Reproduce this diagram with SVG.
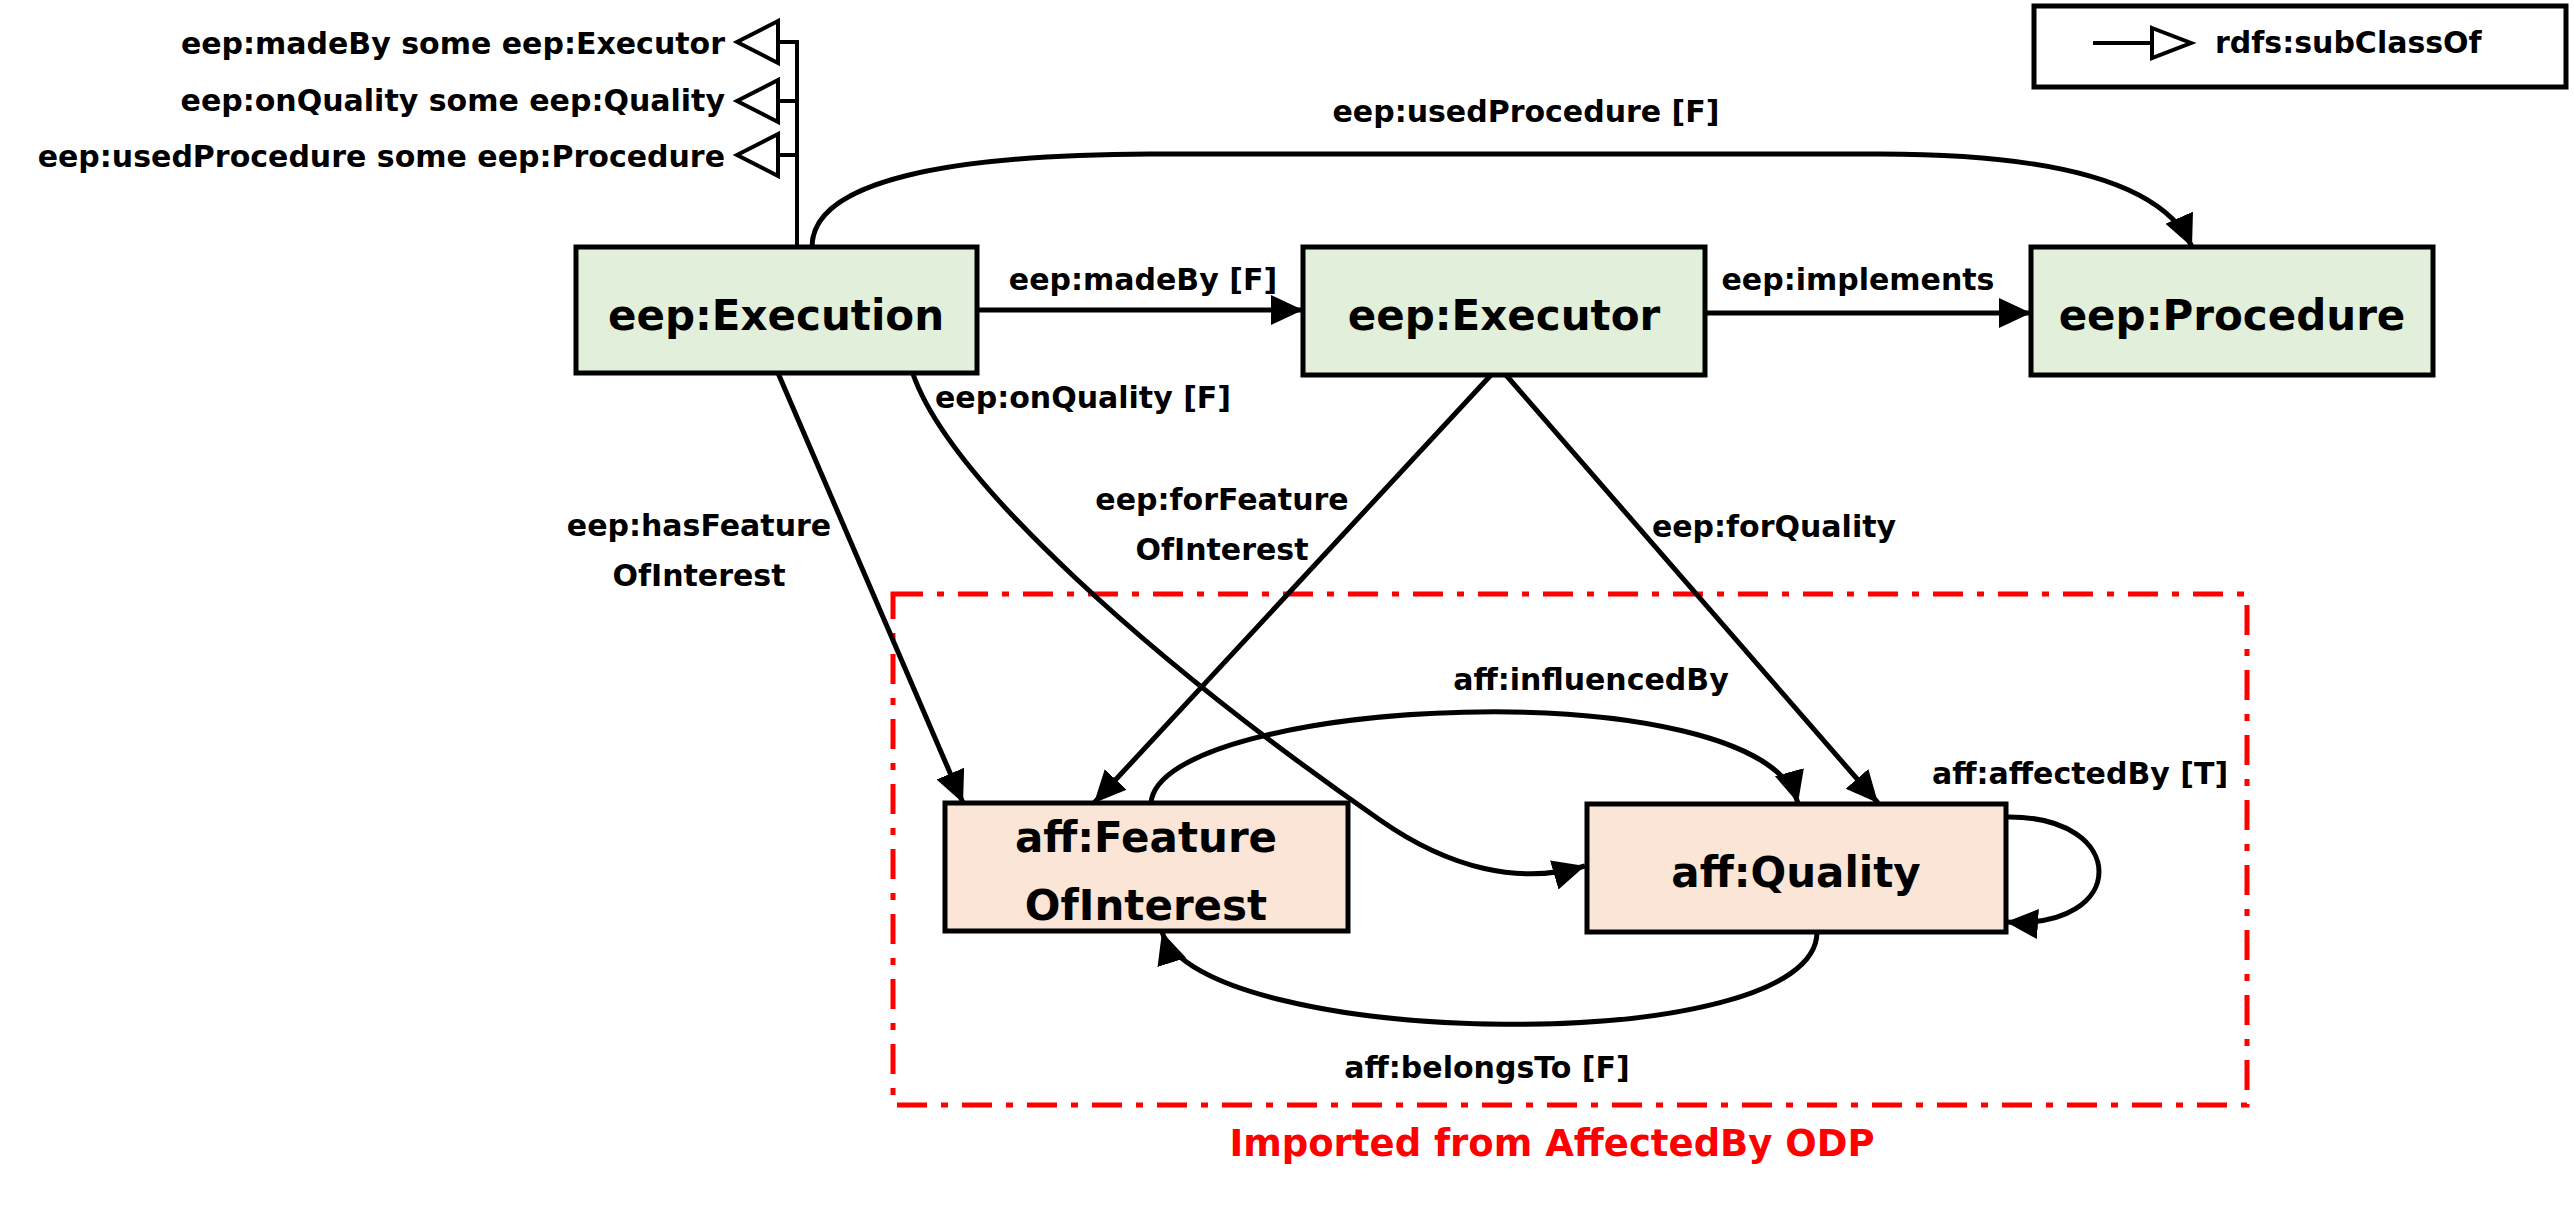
<svg xmlns="http://www.w3.org/2000/svg" width="2574" height="1206" viewBox="0 0 2574 1206">
<style>
text{font-family:"DejaVu Sans","Liberation Sans",sans-serif;font-weight:bold;fill:#000}
.node{font-size:42px;text-anchor:middle}
.lbl{font-size:30px}
.mid{text-anchor:middle}
.end{text-anchor:end}
.green{fill:#E2EFDA;stroke:#000;stroke-width:5}
.orange{fill:#FBE5D6;stroke:#000;stroke-width:5}
.edge{fill:none;stroke:#000;stroke-width:5}
.sub{fill:#fff;stroke:#000;stroke-width:4;stroke-linejoin:miter}
.red{fill:none;stroke:#FF0000;stroke-width:5;stroke-dasharray:30 14 7 14}
</style>
<defs>
<marker id="arr" markerUnits="userSpaceOnUse" markerWidth="34" markerHeight="32" viewBox="0 0 34 32" refX="32" refY="15" orient="auto">
<path d="M0,0 L32,15 L0,30 z" fill="#000"/>
</marker>
</defs>
<rect width="2574" height="1206" fill="#fff"/>

<g id="imported-region">
<rect class="red" x="893" y="594" width="1354" height="511"/>
<text x="1552" y="1156" style="font-size:37px;fill:#FF0000;text-anchor:middle">Imported from AffectedBy ODP</text>
</g>

<g id="legend">
<rect x="2034" y="6" width="532" height="81" fill="#fff" stroke="#000" stroke-width="5"/>
<line x1="2093" y1="43" x2="2152" y2="43" stroke="#000" stroke-width="4"/>
<polygon class="sub" points="2152,28 2191,43 2152,58"/>
<text class="lbl" x="2215" y="53">rdfs:subClassOf</text>
</g>

<g id="connectors">
<!-- subclass axioms -->
<polyline class="edge" style="stroke-width:4" points="778,42 797,42 797,247"/>
<line x1="778" y1="101" x2="797" y2="101" stroke="#000" stroke-width="4"/>
<line x1="778" y1="155" x2="797" y2="155" stroke="#000" stroke-width="4"/>
<polygon class="sub" points="778,21 737,42 778,63"/>
<polygon class="sub" points="778,80 737,101 778,122"/>
<polygon class="sub" points="778,134 737,155 778,176"/>
<!-- usedProcedure -->
<path class="edge" marker-end="url(#arr)" d="M812,247 C812,180 950,155 1150,154 L1880,154 C2060,154 2165,185 2192,247"/>
<!-- madeBy -->
<line class="edge" marker-end="url(#arr)" x1="977" y1="310" x2="1303" y2="310"/>
<!-- implements -->
<line class="edge" marker-end="url(#arr)" x1="1705" y1="313" x2="2031" y2="313"/>
<!-- hasFeatureOfInterest -->
<line class="edge" marker-end="url(#arr)" x1="778" y1="373" x2="963" y2="803"/>
<!-- onQuality -->
<path class="edge" marker-end="url(#arr)" d="M913,374 C950,480 1150,660 1380,820 C1450,869 1520,885 1585,866"/>
<!-- forFeatureOfInterest -->
<line class="edge" marker-end="url(#arr)" x1="1491" y1="375" x2="1094" y2="803"/>
<!-- forQuality -->
<line class="edge" marker-end="url(#arr)" x1="1506" y1="375" x2="1878" y2="803"/>
<!-- influencedBy -->
<path class="edge" marker-end="url(#arr)" d="M1151,803 C1160,697 1760,667 1798,803"/>
<!-- affectedBy self loop -->
<path class="edge" marker-end="url(#arr)" d="M2006,817 C2130,815 2130,930 2006,922"/>
<!-- belongsTo -->
<path class="edge" marker-end="url(#arr)" d="M1817,932 C1817,1060 1200,1050 1162,932"/>
</g>

<g id="edge-labels">
<text class="lbl end" x="725" y="54">eep:madeBy some eep:Executor</text>
<text class="lbl end" x="725" y="111">eep:onQuality some eep:Quality</text>
<text class="lbl end" x="725" y="167">eep:usedProcedure some eep:Procedure</text>
<text class="lbl mid" x="1526" y="122">eep:usedProcedure [F]</text>
<text class="lbl mid" x="1143" y="290">eep:madeBy [F]</text>
<text class="lbl mid" x="1858" y="290">eep:implements</text>
<text class="lbl" x="935" y="408">eep:onQuality [F]</text>
<text class="lbl mid" x="699" y="536">eep:hasFeature</text>
<text class="lbl mid" x="699" y="586">OfInterest</text>
<text class="lbl mid" x="1222" y="510">eep:forFeature</text>
<text class="lbl mid" x="1222" y="560">OfInterest</text>
<text class="lbl mid" x="1774" y="537">eep:forQuality</text>
<text class="lbl mid" x="1591" y="690">aff:influencedBy</text>
<text class="lbl" x="1932" y="784">aff:affectedBy [T]</text>
<text class="lbl mid" x="1487" y="1078">aff:belongsTo [F]</text>
</g>

<g id="node-execution">
<rect class="green" x="576" y="247" width="401" height="126"/>
<text class="node" x="776" y="330">eep:Execution</text>
</g>
<g id="node-executor">
<rect class="green" x="1303" y="247" width="402" height="128"/>
<text class="node" x="1504" y="330">eep:Executor</text>
</g>
<g id="node-procedure">
<rect class="green" x="2031" y="247" width="402" height="128"/>
<text class="node" x="2232" y="330">eep:Procedure</text>
</g>
<g id="node-featureofinterest">
<rect class="orange" x="945" y="803" width="403" height="128"/>
<text class="node" x="1146" y="852">aff:Feature</text>
<text class="node" x="1146" y="920">OfInterest</text>
</g>
<g id="node-quality">
<rect class="orange" x="1587" y="804" width="419" height="128"/>
<text class="node" x="1796" y="887">aff:Quality</text>
</g>
</svg>
